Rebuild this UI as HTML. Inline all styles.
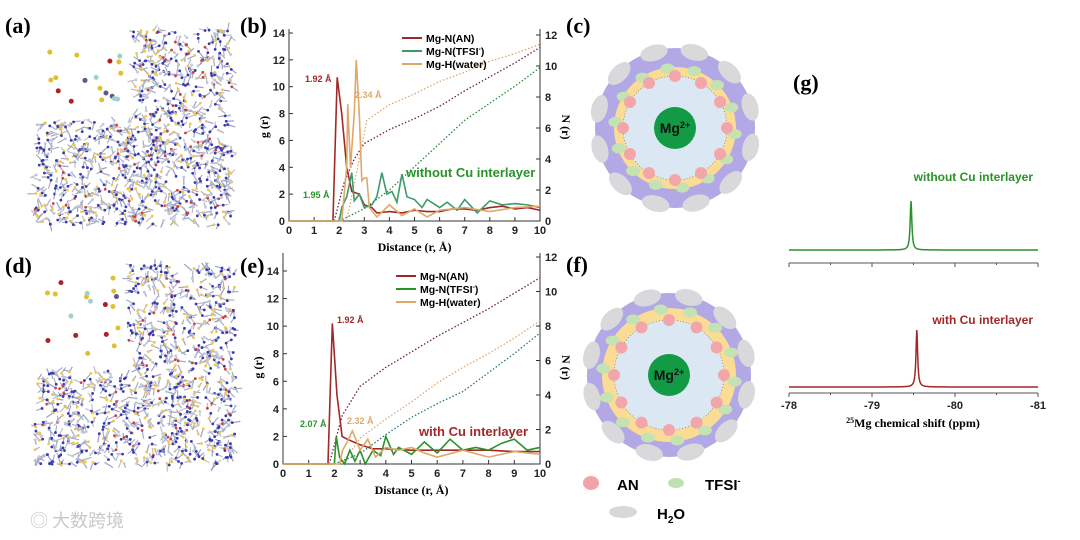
<!DOCTYPE html>
<html><head><meta charset="utf-8">
<style>
html,body{margin:0;padding:0;background:#fff;}
svg{display:block;font-family:"Liberation Sans",Arial,sans-serif;}
.pl{font-family:"Liberation Serif",serif;font-weight:bold;font-size:22px;}
.tk{font-size:11px;font-weight:bold;fill:#222;}
.ax{font-family:"Liberation Serif",serif;font-weight:bold;font-size:12px;}
</style></head>
<body>
<svg id="fig" width="1080" height="540" viewBox="0 0 1080 540" xmlns="http://www.w3.org/2000/svg">
<g id="molA"></g>
<g id="molD"></g>
<text class="pl" x="5" y="33">(a)</text>
<text class="pl" x="5" y="273">(d)</text>
<text class="pl" x="240" y="33">(b)</text>
<text class="pl" x="240" y="273">(e)</text>
<text class="pl" x="566" y="33">(c)</text>
<text class="pl" x="566" y="272">(f)</text>
<text class="pl" x="793" y="90">(g)</text>
<g id="plotB"></g>
<g id="plotE"></g>
<g id="shellC"></g>
<g id="shellF"></g>
<g id="plotG"></g>
<g>
<ellipse cx="591" cy="483" rx="8" ry="7" fill="#f2a3a8"/>
<text x="617" y="490" font-size="15" font-weight="bold">AN</text>
<ellipse cx="676" cy="483" rx="8" ry="5" fill="#bfe0b0"/>
<text x="705" y="490" font-size="15" font-weight="bold">TFSI<tspan font-size="9" dy="-6">-</tspan></text>
<ellipse cx="623" cy="512" rx="14" ry="6" fill="#d8d8d8"/>
<text x="657" y="519" font-size="15" font-weight="bold">H<tspan font-size="10" dy="4">2</tspan><tspan dy="-4">O</tspan></text>
</g>
<text x="30" y="527" font-size="18" fill="#c8c8c8" font-family="Noto Sans CJK SC, sans-serif">◎ 大数跨境</text>
</svg>
<script>
const NS="http://www.w3.org/2000/svg";
function mk(p,t,a){const e=document.createElementNS(NS,t);for(const k in a)e.setAttribute(k,a[k]);p.appendChild(e);return e;}

// ---- panel b data ----
const bAnR=[0,1.75,1.92,2.1,2.3,2.5,2.8,3.0,3.3,3.5,4,4.5,5,5.5,6,6.5,7,7.5,8,8.5,9,9.5,10];
const bAnG=[0,0,10.7,8,4,2.2,2,1.2,1.0,0.6,0.7,0.6,0.8,0.7,0.7,0.9,0.9,0.8,1.0,1.1,0.9,1.0,0.8];
const bTfR=[0,2.0,2.1,2.3,2.5,2.6,2.8,3.0,3.3,3.5,3.7,3.9,4.1,4.3,4.5,4.7,5,5.3,5.5,6,6.3,6.7,7,7.5,8,8.5,9,9.5,10];
const bTfG=[0,0,1.0,1.8,3.6,1.5,2.0,1.0,1.2,1.8,3.6,2.0,2.2,1.4,3.5,1.8,1.6,1.0,1.6,1.0,1.4,0.8,1.6,0.6,1.5,1.2,1.3,1.2,1.0];
const bWaR=[0,2.1,2.2,2.3,2.34,2.45,2.6,2.68,2.8,2.9,3.0,3.1,3.2,3.5,4,4.5,5,5.5,6,7,8,9,10];
const bWaG=[0,0,2.0,4.0,8.7,4.0,8,12,8,3,3.2,3.2,1.0,0.3,1.2,0.4,0.9,0.3,0.8,1.0,0.7,1.0,1.1];
const bNAnR=[1.8,2.2,2.6,3,4,5,6,7,8,9,10], bNAn=[0,2.5,4,5,5.9,6.6,7.4,8.4,9.3,10.2,11.2];
const bNWaR=[2.3,2.8,3.1,4,5,6,7,8,9,10], bNWa=[0,4,6.5,7.5,8.2,9,9.6,10.3,10.8,11.4];
const bNTfR=[2,3,4,5,6,7,8,9,10], bNTf=[0,0.8,2,3.5,5,6.5,7.6,8.7,9.9];
// ---- panel e data ----
const eAnR=[0,1.75,1.92,2.1,2.3,2.5,3,3.5,4,5,6,7,8,9,10];
const eAnG=[0,0,10.2,5,2.0,1.8,1.4,1.1,1.1,1.0,1.0,1.0,1.0,0.9,0.9];
const eTfR=[0,2.0,2.07,2.2,2.4,2.6,2.8,3.0,3.2,3.5,3.8,4.0,4.3,4.5,5,5.5,6,6.5,7,7.5,8,8.5,9,9.5,10];
const eTfG=[0,0,2.0,0.5,0,1.0,0.2,1.0,0,1.0,0.6,2.0,0.7,1.2,0.7,1.6,0.8,1.8,1.0,1.2,1.0,1.5,1.8,1.0,1.2];
const eWaR=[0,2.2,2.32,2.5,2.7,3,3.3,3.6,4,4.5,5,5.5,6,7,8,9,10];
const eWaG=[0,0,1.0,1.6,2.4,1.0,1.8,0.5,1.2,1.0,1.2,0.8,0.5,1.0,0.5,0.9,0.7];
const eNAnR=[1.8,2.3,3,4,5,6,7,8,9,10], eNAn=[0,2.8,4.5,5.6,6.5,7.4,8.2,9.0,9.9,10.8];
const eNWaR=[2.3,3,4,5,6,7,8,9,10], eNWa=[0,1.5,2.6,3.6,4.7,5.6,6.4,7.3,8.3];
const eNTfR=[2,3,4,5,6,7,8,9,10], eNTf=[0,0.6,1.7,2.7,3.5,4.2,5.3,6.4,7.6];
const xTicks=[0,1,2,3,4,5,6,7,8,9,10], gTicks=[0,2,4,6,8,10,12,14], nTicks=[0,2,4,6,8,10,12];
// ---- panel g data ----
const nmrTicks=[-78,-79,-80,-81];
const gShift=[-79.47,-79.54], gLabels=['without Cu interlayer','with Cu interlayer'];

function rdf(id,o){
  const g=document.getElementById(id);
  const X=v=>o.x0+(o.x1-o.x0)*v/10, Y=v=>o.y0-(o.y0-o.yt)*v/14, YN=v=>o.y0-(o.y0-o.yn12)*v/12;
  const top=Math.min(o.yt,o.yn12)-4;
  mk(g,'polyline',{points:`${o.x0},${top} ${o.x0},${o.y0} ${o.x1},${o.y0} ${o.x1},${top}`,fill:'none',stroke:'#333','stroke-width':1});
  xTicks.forEach(t=>{mk(g,'line',{x1:X(t),x2:X(t),y1:o.y0,y2:o.y0-4,stroke:'#333'});
    const l=mk(g,'text',{x:X(t),y:o.y0+13,'text-anchor':'middle',class:'tk'});l.textContent=t;
    
    });
  gTicks.forEach(t=>{mk(g,'line',{x1:o.x0,x2:o.x0+4,y1:Y(t),y2:Y(t),stroke:'#333'});
    const l=mk(g,'text',{x:o.x0-4,y:Y(t)+4,'text-anchor':'end',class:'tk'});l.textContent=t;
    
    });
  nTicks.forEach(t=>{mk(g,'line',{x1:o.x1,x2:o.x1-4,y1:YN(t),y2:YN(t),stroke:'#333'});
    const l=mk(g,'text',{x:o.x1+5,y:YN(t)+4,class:'tk'});l.textContent=t;
    
    });
  let t=mk(g,'text',{x:(o.x0+o.x1)/2,y:o.y0+30,'text-anchor':'middle',class:'ax'});t.textContent='Distance (r, Å)';
  
  
  t=mk(g,'text',{transform:`translate(${o.x0-21},${(o.y0+o.yt)/2}) rotate(-90)`,'text-anchor':'middle',class:'ax'});t.textContent='g (r)';
  
  
  t=mk(g,'text',{transform:`translate(${o.x1+22},${(o.y0+o.yt)/2}) rotate(90)`,'text-anchor':'middle',class:'ax'});t.textContent='N (r)';
  
  
  const line=(rs,vs,col,sy,dot,nm)=>{const p=mk(g,'polyline',{points:rs.map((r,i)=>X(r)+','+sy(vs[i])).join(' '),fill:'none',stroke:col,'stroke-width':dot?1.3:1.6,'stroke-dasharray':dot?'1.5 2':'none'});
    
    };
  o.N.forEach(s=>line(s[0],s[1],s[2],YN,true,s[3]));
  o.G.forEach(s=>line(s[0],s[1],s[2],Y,false,s[3]));
  o.G.forEach((s,i)=>{const ly=o.yt+5+i*13;
    mk(g,'line',{x1:o.x0+113,x2:o.x0+133,y1:ly,y2:ly,stroke:s[2],'stroke-width':2});
    const l=mk(g,'text',{x:o.x0+137,y:ly+4,'font-size':'10.5','font-weight':'bold'});l.innerHTML=s[4];
    
    });
  o.ann.forEach(a=>{const l=mk(g,'text',{x:a[0],y:a[1],fill:a[3],'font-size':a[4]||9,'font-weight':'bold'});l.textContent=a[2];
    
    });
}
const RED='#a02828',TEAL='#3c9a6c',GRN='#2a922a',ORG='#e0a868';
rdf('plotB',{x0:289,x1:540,y0:221,yt:33,yn12:35,
  G:[[bAnR,bAnG,RED,'series-mg-n-an','Mg-N(AN)'],[bTfR,bTfG,TEAL,'series-mg-n-tfsi','Mg-N(TFSI<tspan font-size="7" dy="-4">-</tspan><tspan dy="4">)</tspan>'],[bWaR,bWaG,ORG,'series-mg-h-water','Mg-H(water)']],
  N:[[bNAnR,bNAn,'#6a2040','n-an'],[bNWaR,bNWa,ORG,'n-water'],[bNTfR,bNTf,'#2a8a3a','n-tfsi']],
  ann:[[305,82,'1.92 Å',RED],[355,98,'2.34 Å',ORG],[303,198,'1.95 Å',GRN],[406,177,'without Cu interlayer',GRN,13]]});
rdf('plotE',{x0:283,x1:540,y0:464,yt:271,yn12:257,
  G:[[eAnR,eAnG,RED,'series-mg-n-an','Mg-N(AN)'],[eTfR,eTfG,GRN,'series-mg-n-tfsi','Mg-N(TFSI<tspan font-size="7" dy="-4">-</tspan><tspan dy="4">)</tspan>'],[eWaR,eWaG,ORG,'series-mg-h-water','Mg-H(water)']],
  N:[[eNAnR,eNAn,'#6a2040','n-an'],[eNWaR,eNWa,ORG,'n-water'],[eNTfR,eNTf,'#2a7a6a','n-tfsi']],
  ann:[[337,323,'1.92 Å',RED],[300,427,'2.07 Å',GRN],[347,424,'2.32 Å',ORG],[419,436,'with Cu interlayer',RED,13]]});

// ---- panel g ----
(function(){const g=document.getElementById('plotG');
  const X=v=>789+(1038-789)*(v+78)/-3;
  const cfg=[[250,201,263,GRN],[387,330,393,RED]];
  cfg.forEach((c,k)=>{
    mk(g,'line',{x1:789,x2:1038,y1:c[2],y2:c[2],stroke:'#555'});
    for(let t=-78;t>=-81;t-=0.5)mk(g,'line',{x1:X(t),x2:X(t),y1:c[2],y2:c[2]+(t%1===0?4:2),stroke:'#555'});
    const pts=[];for(let v=-78;v>=-81.0001;v-=0.005){const d=(v-gShift[k])/0.012;pts.push(X(v)+','+(c[0]-(c[0]-c[1])/(1+d*d)));}
    const p=mk(g,'polyline',{points:pts.join(' '),fill:'none',stroke:c[3],'stroke-width':1.5});
    
    
    const l=mk(g,'text',{x:1033,y:c[0]-(k?63:69),'text-anchor':'end',fill:c[3],'font-size':12,'font-weight':'bold'});l.textContent=gLabels[k];
    
    });
  nmrTicks.forEach(t=>{const l=mk(g,'text',{x:X(t),y:409,'text-anchor':'middle',class:'tk'});l.textContent=t;
    
    });
  const l=mk(g,'text',{x:913,y:427,'text-anchor':'middle',class:'ax'});l.innerHTML='<tspan font-size="8" dy="-4">25</tspan><tspan dy="4">Mg chemical shift (ppm)</tspan>';
  
  
})();

// ---- shells ----
function shell(id,cx,cy,rP,rY,rB){const g=document.getElementById(id);
  mk(g,'circle',{cx,cy,r:rP,fill:'#b2a8e6'});
  for(let i=0;i<12;i++){const a=i*Math.PI/6+0.25,ex=cx+(rP-2)*Math.cos(a),ey=cy+(rP-2)*Math.sin(a);
    mk(g,'ellipse',{cx:ex,cy:ey,rx:14,ry:8,fill:'#d9d9dc',transform:`rotate(${a*180/Math.PI+90} ${ex} ${ey})`});}
  mk(g,'circle',{cx,cy,r:rY,fill:'#fbdc94'});
  for(let i=0;i<14;i++){const a=i*2*Math.PI/14+0.1;mk(g,'ellipse',{cx:cx+(rY-1)*Math.cos(a),cy:cy+(rY-1)*Math.sin(a),rx:7,ry:5,fill:'#c4e2b2'});}
  mk(g,'circle',{cx,cy,r:rB,fill:'#dbe8f4',stroke:'#666','stroke-width':0.6,'stroke-dasharray':'1 2'});
  for(let i=0;i<12;i++){const a=i*Math.PI/6;mk(g,'ellipse',{cx:cx+rB*Math.cos(a),cy:cy+rB*Math.sin(a),rx:6,ry:6,fill:'#f2a6aa'});}
  mk(g,'circle',{cx,cy,r:21,fill:'#129a45'});
  const t=mk(g,'text',{x:cx,y:cy+5,'text-anchor':'middle','font-size':14,'font-weight':'bold',fill:'#111'});t.innerHTML='Mg<tspan font-size="9" dy="-5">2+</tspan>';
  
  }
shell('shellC',675,128,80,61,52);
shell('shellF',669,375,82,67,55);

// ---- molecular snapshots (decorative texture) ----
let seed=7;const rnd=()=>{seed=(seed*16807)%2147483647;return seed/2147483647;};
function mol(id,x0,y0,x1,y1,ix,iy){const g=document.getElementById(id);
  const cols=['#a8aec4','#9aa0c8','#bcc0cc','#a8aec4'];
  for(let i=0;i<1200;i++){const x=x0+rnd()*(x1-x0),y=y0+rnd()*(y1-y0);if(x<ix&&y<iy)continue;
    const a=rnd()*6.28,L=4+rnd()*5;mk(g,'line',{x1:x,y1:y,x2:x+L*Math.cos(a),y2:y+L*Math.sin(a),stroke:cols[i%4],'stroke-width':1.2});
    const r=rnd();mk(g,'circle',{cx:x,cy:y,r:1.4,fill:r<0.45?'#3a3ab0':(r<0.7?'#f0c850':(r<0.78?'#d04040':'#c4c8d4'))});}
  for(let i=0;i<18;i++){const x=x0+10+rnd()*(ix-x0-20),y=y0+10+rnd()*(iy-y0-20);
    const r=rnd();mk(g,'circle',{cx:x,cy:y,r:2.5,fill:r<0.3?'#b02020':(r<0.6?'#e0c030':(r<0.8?'#a0d0c8':'#5a5a90'))});}}
mol('molA',35,30,232,225,133,120);
mol('molD',35,265,236,465,128,370);
</script>
</body></html>
